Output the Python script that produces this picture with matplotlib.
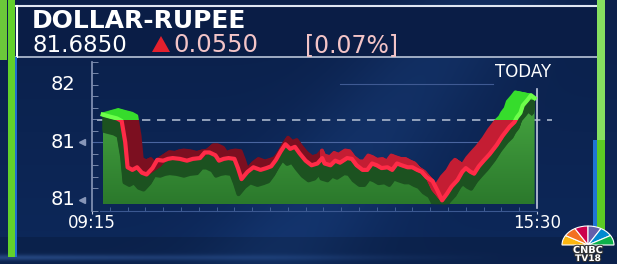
import matplotlib
matplotlib.use("Agg")
import matplotlib.pyplot as plt
import numpy as np
from matplotlib.patches import Rectangle, Polygon, Wedge
from matplotlib.transforms import ScaledTranslation, Affine2D, blended_transform_factory
from matplotlib.colors import LinearSegmentedColormap
import matplotlib.patheffects as pe

# intraday USD/INR, minutes after 09:15 and rate
minutes = [9, 15, 21, 25, 28, 30, 34, 38, 42, 46, 51, 55, 60, 64, 68, 74, 80, 85,
           91, 95, 99, 104, 107, 111, 115, 120, 123, 126, 131, 136, 142, 147, 151,
           155, 159, 163, 167, 171, 175, 180, 185, 190, 194, 196, 201, 205, 209,
           215, 219, 223, 228, 232, 236, 240, 244, 249, 253, 257, 261, 266, 270,
           274, 278, 282, 287, 291, 295, 299, 303, 308, 312, 315, 319, 322, 326,
           330, 335, 341, 346, 352, 356, 358, 361, 363, 367, 370, 373]
rates = [81.6440, 81.6390, 81.6345, 81.6280, 81.5750, 81.5125, 81.5060, 81.5125,
         81.4990, 81.4945, 81.5105, 81.5310, 81.5290, 81.5335, 81.5355, 81.5335,
         81.5290, 81.5335, 81.5355, 81.5495, 81.5495, 81.5425, 81.5290, 81.5335,
         81.5355, 81.5335, 81.5105, 81.4830, 81.5010, 81.5125, 81.5060, 81.5105,
         81.5150, 81.5310, 81.5520, 81.5700, 81.5585, 81.5635, 81.5470, 81.5290,
         81.5175, 81.5220, 81.5355, 81.5220, 81.5175, 81.5290, 81.5240, 81.5355,
         81.5335, 81.5175, 81.5060, 81.5060, 81.5220, 81.5175, 81.5105, 81.5125,
         81.5060, 81.5220, 81.5175, 81.5125, 81.5125, 81.5060, 81.5010, 81.4875,
         81.4780, 81.4550, 81.4300, 81.4460, 81.4644, 81.4805, 81.5012, 81.5104,
         81.5012, 81.4966, 81.5150, 81.5288, 81.5449, 81.5679, 81.5909, 81.6139,
         81.6254, 81.6369, 81.6484, 81.6668, 81.6806, 81.6921, 81.6850]

title = "DOLLAR-RUPEE"
last_price = 81.6850
change = 0.0550
pct_change = 0.07
time_labels = ["09:15", "15:30"]
session_len = 375
y_ticks = [81.432, 81.575, 81.720]
y_tick_labels = ["81", "81", "82"]

prev_close = last_price - change
fill_base = 81.4207

W, H = 617, 264
fig = plt.figure(figsize=(W / 100, H / 100), dpi=100)

# background / frame in pixel coords
bg = fig.add_axes([0, 0, 1, 1])
bg.set_xlim(0, W)
bg.set_ylim(H, 0)
bg.axis("off")

yy, xx = np.mgrid[0:H, 0:W]
top_c = np.array([0x0b, 0x20, 0x4a]) / 255
bot_c = np.array([0x0d, 0x28, 0x5a]) / 255
t = (yy / H)[..., None]
img = top_c * (1 - t) + bot_c * t
band = np.exp(-((xx + 0.8 * yy - 480) / 80.0) ** 2)[..., None]
img = img + band * np.array([0.025, 0.05, 0.08])
low = (yy > 236)[..., None]
img = np.where(low, img * 0.85, img)
streak = np.exp(-((yy - 257) / 3.0) ** 2) * np.clip(1 - xx / 500, 0, 1)
img = img + streak[..., None] * np.array([0.10, 0.14, 0.20])
bg.imshow(np.clip(img, 0, 1), extent=(0, W, H, 0), aspect="auto", zorder=0)

# header box
bg.add_patch(Rectangle((16, 6), 584, 51, facecolor="#0a1d46", edgecolor="none", zorder=1))
bg.plot([16, 600], [6, 6], color="#dfe6f2", lw=1.5, zorder=2)
bg.plot([16, 600], [57, 57], color="#b9c4d8", lw=1.2, zorder=2)
bg.plot([17, 17], [6, 57], color="#ffffff", lw=1.5, zorder=2)

# side bars
bg.add_patch(Rectangle((0, 0), 7, 60, facecolor="#6cc83a", edgecolor="none", zorder=2))
bg.add_patch(Rectangle((8, 0), 7, 257, facecolor="#62d12b", edgecolor="none", zorder=2))
bg.add_patch(Rectangle((15, 57), 2, 200, facecolor="#1f6fd0", edgecolor="none", zorder=2))
bg.add_patch(Rectangle((597, 0), 8, 140, facecolor="#86e060", edgecolor="none", zorder=2))
bg.add_patch(Rectangle((597, 140), 8, 92, facecolor="#5ccb24", edgecolor="none", zorder=2))
bg.add_patch(Rectangle((593, 140), 4, 95, facecolor="#1f74d4", edgecolor="none", zorder=2))

# header text
bg.text(32, 28, title, color="white", fontsize=18, fontweight="bold", va="baseline", zorder=3)
bg.text(32, 52, f"{last_price:.4f}", color="white", fontsize=16.5, va="baseline", zorder=3)
bg.add_patch(Polygon([(152, 52), (170, 52), (161, 36)], closed=True,
                     facecolor="#e3202d", edgecolor="none", zorder=3))
bg.text(173, 52, f"{change:.4f}", color="#f3c4c7", fontsize=17.5, va="baseline", zorder=3)
bg.text(305, 52, f"[{pct_change:.2f}%]", color="#f3c4c7", fontsize=17, va="baseline", zorder=3)

bg.text(523, 77, "TODAY", color="white", fontsize=12, ha="center", va="baseline", zorder=3)

# CNBC TV18 logo
feathers = ["#fcb711", "#f37021", "#cc004c", "#6460aa", "#0089d0", "#0db14b"]
logo_tr = Affine2D().scale(26, 19).translate(588, 245) + bg.transData
for i, c in enumerate(feathers):
    bg.add_patch(Wedge((0, 0), 1, 180 + 30 * i, 210 + 30 * i, facecolor=c,
                       edgecolor="white", lw=0.8, transform=logo_tr, zorder=3))
outline = [pe.withStroke(linewidth=1.5, foreground="#333333")]
bg.text(588, 253, "CNBC", color="white", fontsize=7, fontweight="bold", ha="center",
        va="baseline", zorder=4, path_effects=outline)
bg.text(588, 261, "TV18", color="white", fontsize=6.5, fontweight="bold", ha="center",
        va="baseline", zorder=4, path_effects=outline)

# chart axes
ax = fig.add_axes([92 / W, 1 - 211 / H, 445 / W, 149 / H])
ax.patch.set_alpha(0)
ax.set_xlim(0, session_len)
ax.set_ylim(81.4115, 81.7542)

# gradient area fill clipped under the line
verts = list(zip(minutes, rates)) + [(minutes[-1], fill_base), (minutes[0], fill_base)]
area = Polygon(verts, closed=True, facecolor="none", edgecolor="none", transform=ax.transData)
ax.add_patch(area)
grad = np.linspace(0, 1, 100)[:, None]
fill_cmap = LinearSegmentedColormap.from_list("g", ["#2b792c", "#48a842"])
im = ax.imshow(grad, extent=[minutes[0], minutes[-1], max(rates), fill_base],
               aspect="auto", cmap=fill_cmap, zorder=2)
im.set_clip_path(area)

# shadow under the line
for k in np.linspace(0, 1, 12):
    tr = ax.transData + ScaledTranslation(-0.03 * k, -(0.03 + 0.12 * k), fig.dpi_scale_trans)
    ln, = ax.plot(minutes, rates, color="#1c5220", lw=3, transform=tr, zorder=3,
                  solid_joinstyle="round")
    ln.set_clip_path(area)

# 3D ribbon: depth recedes toward a vanishing point above the chart centre
vp_x, vp_y = 320, H - 53      # display pixels
depth = 0.075


def toward_vp(s):
    return Affine2D().translate(-vp_x, -vp_y).scale(1 - s).translate(vp_x, vp_y)


split = ax.transData.inverted().transform((vp_x, vp_y))[0]
clip_up = Rectangle((-50, prev_close), 500, 1, transform=ax.transData)
clip_dn_l = Rectangle((-50, prev_close - 1), split + 50, 1, transform=ax.transData)
clip_dn_r = Rectangle((split, prev_close - 1), 500, 1, transform=ax.transData)
ribbon = [(clip_dn_l, "#7c0f20", "#ff2b47"),
          (clip_dn_r, "#c41d33", "#ff2b47"),
          (clip_up, "#36dc2c", "#6dff4a")]
for clip, face, front in ribbon:
    for k in np.linspace(1, 0, 20):
        tr = ax.transData + toward_vp(depth * k)
        ln, = ax.plot(minutes, rates, color=face, lw=2.4, transform=tr, zorder=4,
                      solid_joinstyle="round")
        ln.set_clip_path(clip)
    ln, = ax.plot(minutes, rates, color=front, lw=3, zorder=5, solid_joinstyle="round")
    ln.set_clip_path(clip)

# reference lines
ax.axhline(prev_close, xmin=5 / 445, xmax=460 / 445, color="#a9b6cc", lw=1.2,
           dashes=(5, 4), clip_on=False, zorder=1.5)
ax.axhline(y_ticks[1], xmin=0, xmax=(493 - 92) / 445, color="#4a65a0", lw=0.8, zorder=1)
ax.axhline(y_ticks[2], xmin=(340 - 92) / 445, xmax=(493 - 92) / 445, color="#3f5a93",
           lw=0.8, zorder=1)

ax.set_xlim(0, session_len)
ax.set_ylim(81.4115, 81.7542)

# axes styling
ax.spines["top"].set_visible(False)
ax.spines["left"].set_color("#8796b8")
ax.spines["left"].set_linewidth(1.2)
ax.spines["right"].set_color("#c3cbe0")
ax.spines["right"].set_linewidth(1.2)
ax.spines["right"].set_bounds(81.4115, 81.708)
ax.spines["bottom"].set_color("#3b5891")
ax.spines["bottom"].set_bounds(7, session_len)

ax.set_yticks(y_ticks, y_tick_labels)
for lab in ax.get_yticklabels():
    lab.set_verticalalignment("center")
step = (y_ticks[1] - y_ticks[0]) / 5
ax.set_yticks(np.arange(y_ticks[0] - step, y_ticks[2] + 2 * step, step), minor=True)
ax.tick_params(axis="y", which="major", length=0, pad=12, labelsize=14, labelcolor="white")
ax.tick_params(axis="y", which="minor", direction="in", length=4, color="#8796b8")

ax.set_xticks([0, session_len], time_labels)
ax.set_xticks(np.arange(15, session_len, 15), minor=True)
ax.tick_params(axis="x", which="major", length=2, color="#c3cbe0", pad=0.5,
               labelsize=12, labelcolor="white")
ax.tick_params(axis="x", which="minor", direction="in", length=3, color="#4d6aa0")

mk_tr = blended_transform_factory(ax.transAxes, ax.transData)
ax.plot([-0.022] * len(y_ticks[:2]), y_ticks[:2], marker="<", ms=4, ls="none",
        color="#8796b8", transform=mk_tr, clip_on=False)

fig.savefig("out.png", dpi=100, facecolor="#0b214c")
